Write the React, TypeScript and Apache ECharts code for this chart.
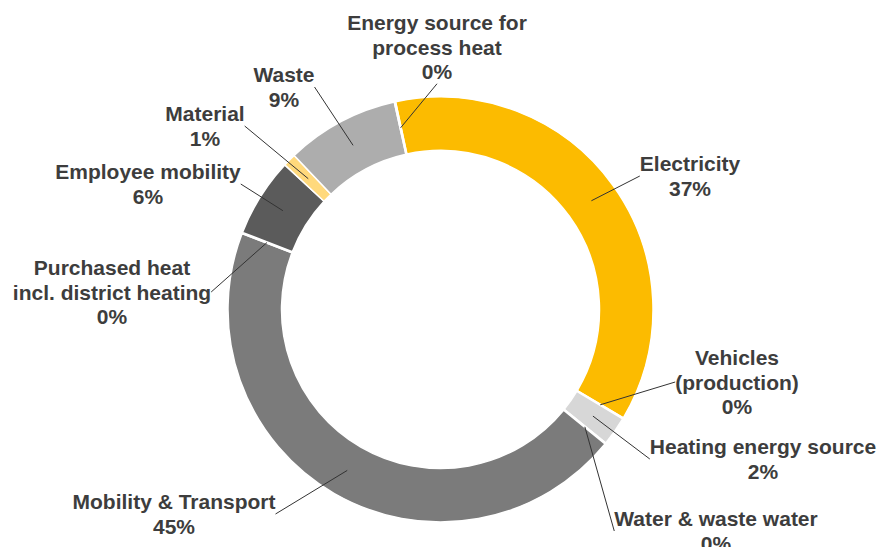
import React, { useEffect, useRef } from "react";
import * as echarts from "echarts";

// ---- data ----
const categories: string[] = [
  "Electricity",
  "Vehicles\n(production)",
  "Heating energy source",
  "Water & waste water",
  "Mobility & Transport",
  "Purchased heat\nincl. district heating",
  "Employee mobility",
  "Material",
  "Waste",
  "Energy source for\nprocess heat",
];
const shares: number[] = [36.9, 0.1, 2.2, 0.1, 44.9, 0.1, 6.0, 1.0, 8.6, 0.1];
const sliceColors: string[] = [
  "#FCBB00",
  "#E6E6E6",
  "#D7D7D7",
  "#E6E6E6",
  "#7B7B7B",
  "#E6E6E6",
  "#5B5B5B",
  "#FFD97C",
  "#ADADAD",
  "#E6E6E6",
];

// ---- label placement (layout only) ----
const labelCenters: [number, number][] = [
  [690, 176],
  [737, 382],
  [763, 459],
  [716, 531],
  [174, 514],
  [112, 292],
  [148, 184],
  [205, 126],
  [284, 87],
  [437, 47],
];

const CENTER: [number, number] = [440.5, 309.5];
const START_ANGLE = 102.2;

export default function App() {
  const ref = useRef<HTMLDivElement>(null);

  useEffect(() => {
    if (!ref.current) return;
    const chart = echarts.init(ref.current, undefined, { renderer: "svg" });
    const data = categories.map((name, i) => ({
      name,
      value: shares[i],
      itemStyle: { color: sliceColors[i] },
    }));
    const labelData = categories.map((name, i) => ({
      name,
      value: shares[i],
    }));
    chart.setOption({
      animation: false,
      backgroundColor: "#ffffff",
      series: [
        {
          type: "pie",
          center: CENTER,
          radius: [159, 212.5],
          startAngle: START_ANGLE,
          clockwise: true,
          silent: true,
          z: 1,
          itemStyle: { borderColor: "#ffffff", borderWidth: 1.5 },
          label: { show: false },
          labelLine: { show: false },
          data,
        },
        {
          type: "pie",
          center: CENTER,
          radius: [0, 186],
          startAngle: START_ANGLE,
          clockwise: true,
          silent: true,
          z: 3,
          percentPrecision: 0,
          avoidLabelOverlap: false,
          itemStyle: { color: "rgba(0,0,0,0)", borderWidth: 0 },
          label: {
            show: true,
            position: "outside",
            formatter: "{b}\n{d}%",
            fontFamily: "Liberation Sans, Arial, sans-serif",
            fontWeight: "bold",
            fontSize: 21,
            lineHeight: 24.5,
            color: "#3d3d3d",
            align: "center",
          },
          labelLine: {
            show: true,
            length: 10,
            length2: 0,
            smooth: false,
            lineStyle: { color: "#333333", width: 1 },
          },
          labelLayout: (params: any) => {
            const p = labelCenters[params.dataIndex];
            return {
              x: p[0],
              y: p[1],
              align: "center",
              verticalAlign: "middle",
              hideOverlap: false,
            };
          },
          data: labelData,
        },
      ],
    });
    return () => chart.dispose();
  }, []);

  return (
    <div
      ref={ref}
      style={{ position: "fixed", left: 0, top: 0, width: 880, height: 547 }}
    />
  );
}
